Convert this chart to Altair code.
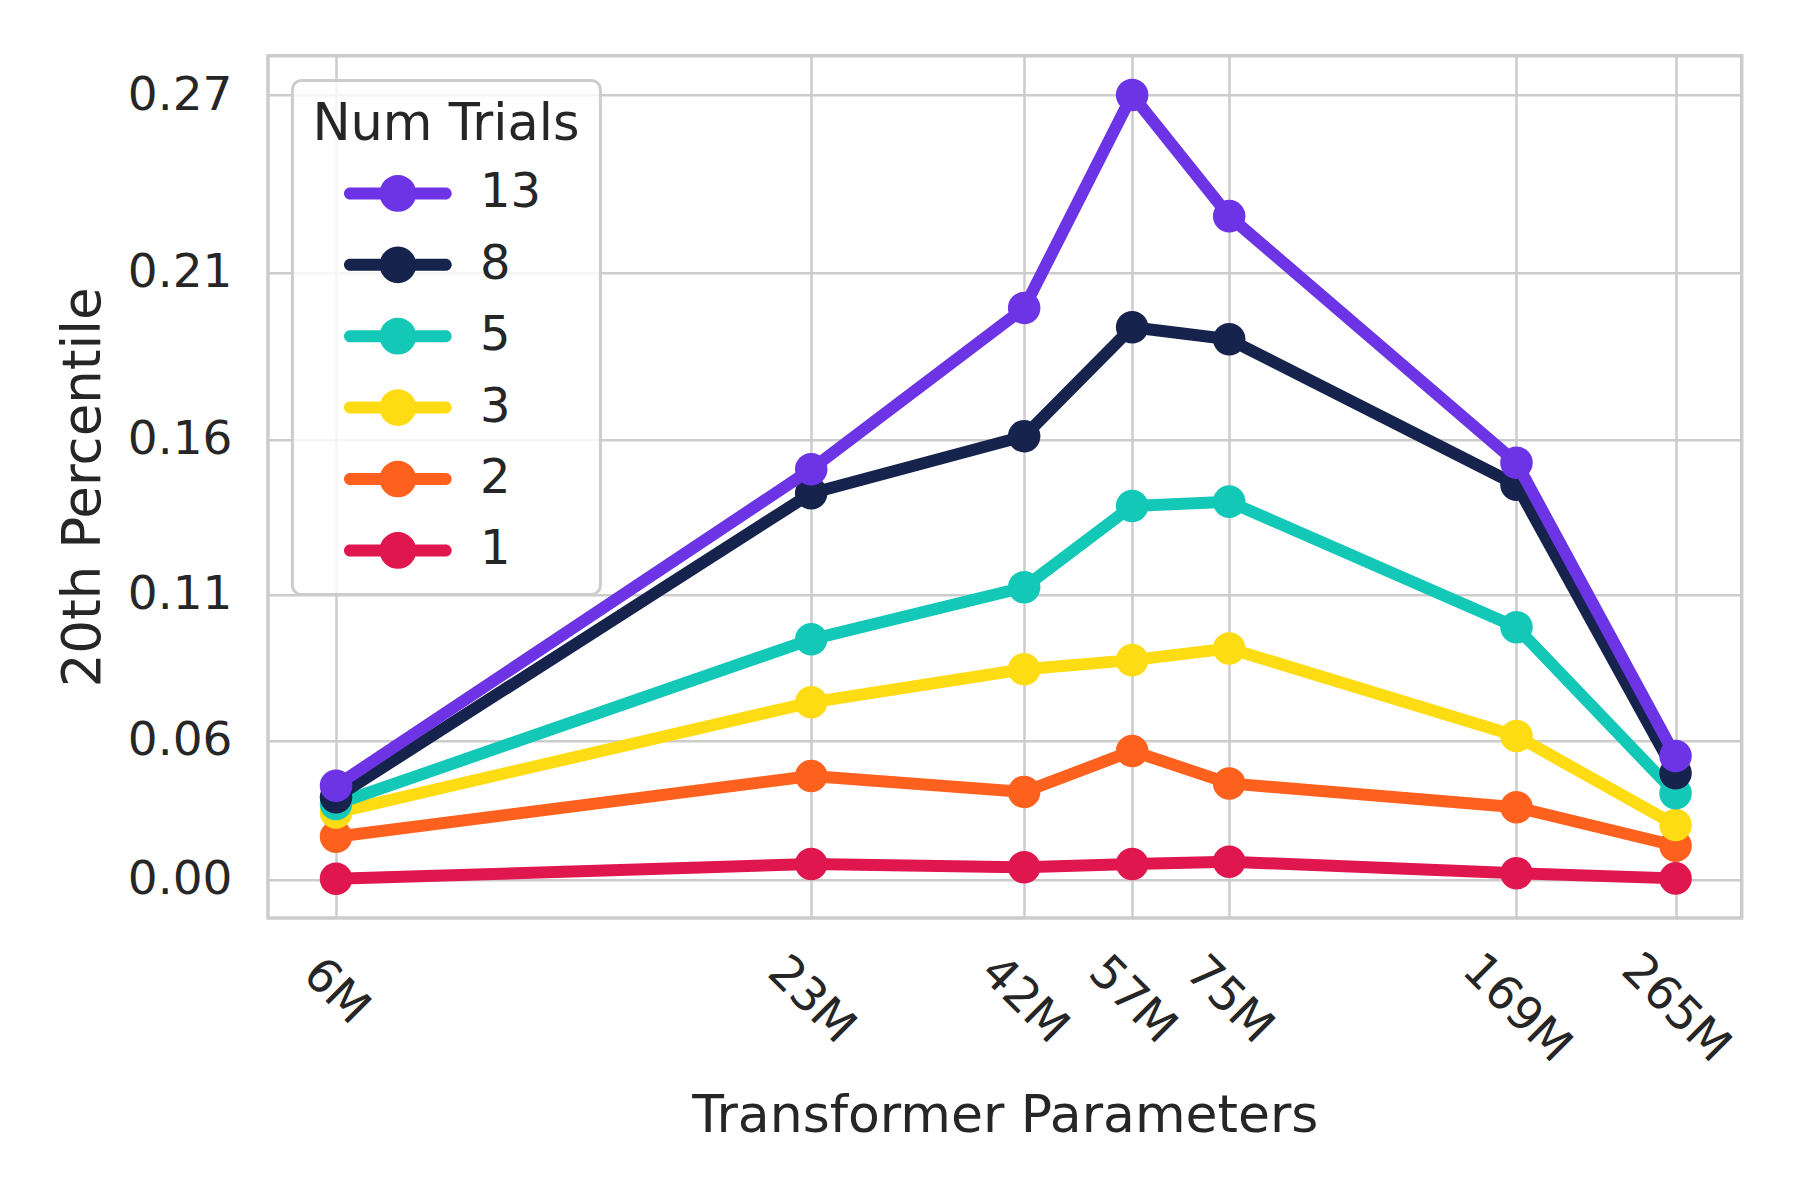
import altair as alt
import pandas as pd

# ---------------- data ----------------
params = [6, 23, 42, 57, 75, 169, 265]            # millions of parameters
param_labels = ["6M", "23M", "42M", "57M", "75M", "169M", "265M"]

trials_13 = [0.0407, 0.1503, 0.1994, 0.2700, 0.2291, 0.1524, 0.0535]
trials_8 = [0.0357, 0.1426, 0.1609, 0.1936, 0.1900, 0.1453, 0.0461]
trials_5 = [0.0328, 0.0947, 0.1123, 0.1385, 0.1399, 0.0988, 0.0374]
trials_3 = [0.0291, 0.0732, 0.0845, 0.0876, 0.0916, 0.0617, 0.0237]
trials_2 = [0.0187, 0.0449, 0.0380, 0.0557, 0.0417, 0.0314, 0.0148]
trials_1 = [0.0005, 0.0069, 0.0055, 0.0069, 0.0079, 0.0029, 0.0007]

series_names = ["13", "8", "5", "3", "2", "1"]
series_colors = ["#6c34e4", "#16234c", "#14c8b8", "#fedc14", "#fe601e", "#e0164e"]
series_values = {"13": trials_13, "8": trials_8, "5": trials_5,
                 "3": trials_3, "2": trials_2, "1": trials_1}

y_ticks = [0.00, 0.06, 0.11, 0.16, 0.21, 0.27]

# ---------------- styling ----------------
FONT = "DejaVu Sans"
TEXT = "#262626"
GRID = "#cccccc"
W, H = 1473.7, 862.3

rows = []
for name in series_names:
    for p, v in zip(params, series_values[name]):
        rows.append({"params": p, "value": v, "trials": name})
df = pd.DataFrame(rows)
labels_df = pd.DataFrame({"params": params, "label": param_labels})

x_scale = alt.Scale(type="log", domain=[4.95, 319.5], nice=False)
# piecewise-linear y scale reproducing the reference's uneven tick spacing
y_scale = alt.Scale(type="linear",
                    domain=[-0.0164, 0.0, 0.06, 0.11, 0.16, 0.21, 0.27, 0.2833],
                    range=[H, 824.3, 685.3, 538.8, 383.5, 217.0, 39.3, 0],
                    zero=False, nice=False)

x_axis = alt.Axis(values=params, labels=False, ticks=False, domain=False,
                  grid=True, gridColor=GRID, gridWidth=2.5,
                  title="Transformer Parameters", titleFontSize=52,
                  titleFont=FONT, titleColor=TEXT, titleFontWeight="normal",
                  titleY=213.7, titleBaseline="alphabetic")
y_axis = alt.Axis(values=y_ticks, format=".2f", ticks=False, domain=False,
                  grid=True, gridColor=GRID, gridWidth=2.5,
                  labelFontSize=47, labelFont=FONT, labelColor=TEXT,
                  labelPadding=36, labelBaseline="middle",
                  title="20th Percentile", titleFontSize=53, titleFont=FONT,
                  titleColor=TEXT, titleFontWeight="normal",
                  titleAngle=270, titleX=-168, titleY=H / 2,
                  titleAlign="center", titleBaseline="alphabetic")

LEG_PATH = ("M0.504,-0.24H4.332A0.24,0.24 0 0,1 4.332,0.24H0.504"
            "A0.24,0.24 0 0,1 0.504,-0.24Z "
            "M1.686,0A0.734,0.734 0 1,1 3.154,0A0.734,0.734 0 1,1 1.686,0Z")

legend = alt.Legend(title="Num Trials", orient="none", legendX=24.4, legendY=24.7,
                    padding=20, fillColor="rgba(255,255,255,0.8)",
                    strokeColor="#cccccc", cornerRadius=9,
                    symbolType=LEG_PATH, symbolSize=2500, symbolStrokeWidth=0,
                    symbolOpacity=1, symbolOffset=0, labelOffset=117.6,
                    rowPadding=22.4, titlePadding=17, titleLimit=500,
                    titleFontSize=51, titleFont=FONT, titleColor=TEXT,
                    titleFontWeight="normal", titleAnchor="start",
                    labelFontSize=48, labelFont=FONT, labelColor=TEXT)

color_enc = alt.Color("trials:N",
                      scale=alt.Scale(domain=series_names, range=series_colors),
                      legend=legend)

x_enc = alt.X("params:Q", scale=x_scale, axis=x_axis)
y_enc = alt.Y("value:Q", scale=y_scale, axis=y_axis)

base = alt.Chart(df)
layers = []
# draw series "1" first so "13" ends on top, each line with its own markers
for name, col in reversed(list(zip(series_names, series_colors))):
    sub = base.transform_filter(alt.datum.trials == name)
    layers.append(sub.mark_line(color=col, strokeWidth=12, strokeJoin="round",
                                strokeCap="round").encode(x=x_enc, y=y_enc))
    layers.append(sub.mark_point(filled=True, size=1058, opacity=1, strokeWidth=0)
                  .encode(x=x_enc, y=y_enc, color=color_enc))

xlabels = alt.Chart(labels_df).transform_calculate(
    ly=f"{H} + 73.7 + 8.4 * (length(datum.label) - 2)"
).mark_text(angle=45, align="center", baseline="middle", fontSize=47,
            font=FONT, color=TEXT).encode(
    x=alt.X("params:Q", scale=x_scale, axis=x_axis),
    y=alt.Y("ly:Q", scale=None, axis=None),
    text="label:N",
)
layers.append(xlabels)

chart = alt.layer(*layers).properties(
    width=W, height=H,
    autosize=alt.AutoSizeParams(type="none"),
    padding={"left": 260, "top": 47.7, "right": 40, "bottom": 250},
    background="white",
).configure_view(
    stroke="#cccccc", strokeWidth=3.5
).configure_legend(
    strokeWidth=3
)

chart.save("out.html", embed_options={"renderer": "svg", "actions": False})
